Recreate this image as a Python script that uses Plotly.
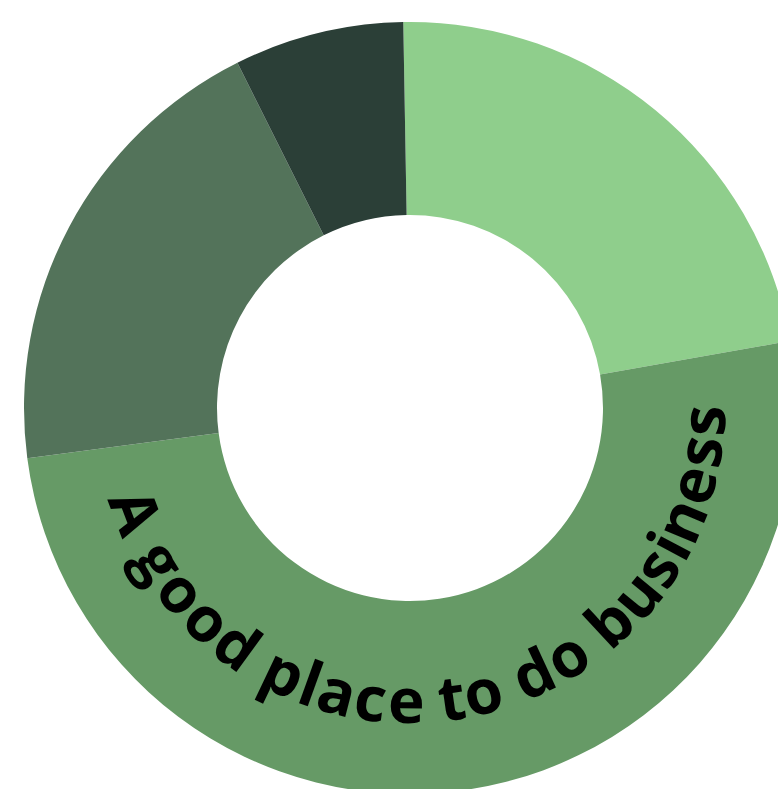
import math
import plotly.graph_objects as go

# ---- data ----
segments = ["Segment A", "Segment B", "Segment C", "Segment D"]
shares = [22.5, 50.7, 19.7, 7.1]
colors = ["#8fce8c", "#669a66", "#53735a", "#2b3f37"]
label_text = "A good place to do business"

# ---- layout geometry (pixels) ----
W, H = 820, 820
cx, cy, R = 410, 408, 386

fig = go.Figure()
fig.add_trace(go.Pie(
    labels=segments, values=shares, hole=0.5, sort=False,
    direction="clockwise", rotation=-1,
    marker=dict(colors=colors, line=dict(width=0)),
    textinfo="none", hoverinfo="label+percent", showlegend=False,
    domain=dict(x=[(cx - R) / W, (cx + R) / W],
                y=[1 - (cy + R) / H, 1 - (cy - R) / H]),
))

# approximate relative advance widths (em) for bold sans
adv = {" ": 0.25, "A": 0.72, "a": 0.62, "b": 0.66, "c": 0.56, "d": 0.66,
       "e": 0.62, "g": 0.64, "i": 0.30, "l": 0.30, "n": 0.64, "o": 0.64,
       "p": 0.66, "s": 0.52, "t": 0.42, "u": 0.64}
fs = 62
Rb = 310
th_start, th_end = 253.5, 89.5
widths = [adv.get(ch, 0.6) for ch in label_text]
total = sum(widths)
Rc = Rb - 0.30 * fs
cum = 0.0
anns = []
for ch, w in zip(label_text, widths):
    frac = (cum + w / 2) / total
    cum += w
    if ch == " ":
        continue
    th = th_start - frac * (th_start - th_end)
    t = math.radians(th)
    px = cx + Rc * math.sin(t)
    py = cy - Rc * math.cos(t)
    anns.append(dict(x=px / W, y=1 - py / H, xref="paper", yref="paper",
                     text=ch, showarrow=False, xanchor="center", yanchor="middle",
                     textangle=th - 180,
                     font=dict(family="Open Sans", size=fs, color="#000000", weight=700)))

fig.update_layout(width=W, height=H, margin=dict(l=0, r=0, t=0, b=0),
                  paper_bgcolor="white", plot_bgcolor="white",
                  annotations=anns)
fig.write_html("out.html")
